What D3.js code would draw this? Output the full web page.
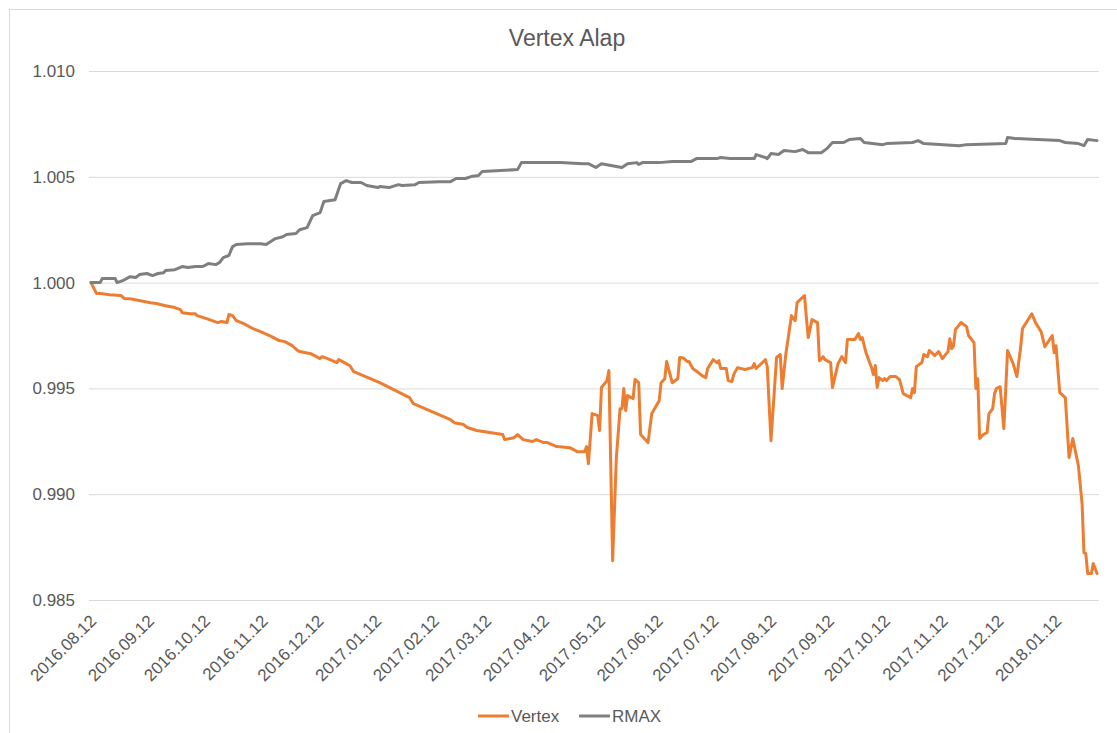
<!DOCTYPE html>
<html>
<head>
<meta charset="utf-8">
<script src="https://cdn.jsdelivr.net/npm/d3@7"></script>
<style>
  html, body { margin: 0; padding: 0; background: #fff; }
  svg { display: block; font-family: "Liberation Sans", Arial, Helvetica, sans-serif; }
</style>
</head>
<body>
<svg id="chart" width="1117" height="733"></svg>
<script>
const chartTitle = "Vertex Alap";
const seriesNames = ["Vertex", "RMAX"];
const seriesColors = ["#ED7D31", "#7F7F7F"];
const yTicks = [0.985, 0.990, 0.995, 1.000, 1.005, 1.010];
const xTickLabels = ["2016.08.12","2016.09.12","2016.10.12","2016.11.12","2016.12.12","2017.01.12","2017.02.12","2017.03.12","2017.04.12","2017.05.12","2017.06.12","2017.07.12","2017.08.12","2017.09.12","2017.10.12","2017.11.12","2017.12.12","2018.01.12"];

const vertex = [
["2016-08-12",1.00000],["2016-08-15",0.99948],["2016-08-17",0.99948],["2016-08-22",0.99943],["2016-08-28",0.99939],
["2016-08-30",0.99924],["2016-09-02",0.99924],["2016-09-13",0.99905],["2016-09-16",0.99901],["2016-09-21",0.99891],
["2016-09-26",0.99882],["2016-09-29",0.99872],["2016-09-30",0.99858],["2016-10-04",0.99853],["2016-10-07",0.99853],
["2016-10-08",0.99844],["2016-10-13",0.99830],["2016-10-19",0.99811],["2016-10-21",0.99816],["2016-10-24",0.99811],
["2016-10-25",0.99849],["2016-10-27",0.99844],["2016-10-29",0.99820],["2016-11-02",0.99806],["2016-11-07",0.99782],
["2016-11-11",0.99768],["2016-11-17",0.99745],["2016-11-21",0.99726],["2016-11-24",0.99721],["2016-11-28",0.99702],
["2016-12-01",0.99679],["2016-12-02",0.99674],["2016-12-08",0.99664],["2016-12-10",0.99655],["2016-12-13",0.99641],
["2016-12-14",0.99650],["2016-12-17",0.99641],["2016-12-22",0.99622],["2016-12-23",0.99636],["2016-12-26",0.99622],
["2016-12-29",0.99607],["2016-12-31",0.99579],["2017-01-14",0.99527],["2017-01-30",0.99456],["2017-02-01",0.99428],
["2017-02-21",0.99352],["2017-02-23",0.99338],["2017-02-28",0.99329],["2017-03-02",0.99315],["2017-03-07",0.99301],
["2017-03-21",0.99282],["2017-03-22",0.99258],["2017-03-27",0.99267],["2017-03-29",0.99282],["2017-04-01",0.99258],
["2017-04-06",0.99249],["2017-04-08",0.99258],["2017-04-12",0.99244],["2017-04-14",0.99244],["2017-04-19",0.99225],
["2017-04-26",0.99220],["2017-04-30",0.99201],["2017-05-04",0.99201],["2017-05-05",0.99225],["2017-05-06",0.99144],
["2017-05-08",0.99381],["2017-05-11",0.99371],["2017-05-12",0.99301],["2017-05-13",0.99504],["2017-05-16",0.99537],
["2017-05-17",0.99584],["2017-05-19",0.98686],["2017-05-21",0.99173],["2017-05-23",0.99404],["2017-05-24",0.99404],
["2017-05-25",0.99499],["2017-05-26",0.99395],["2017-05-27",0.99466],["2017-05-30",0.99452],["2017-05-31",0.99542],
["2017-06-02",0.99527],["2017-06-03",0.99282],["2017-06-07",0.99244],["2017-06-09",0.99381],["2017-06-13",0.99442],
["2017-06-14",0.99527],["2017-06-16",0.99546],["2017-06-17",0.99627],["2017-06-20",0.99527],["2017-06-23",0.99546],
["2017-06-24",0.99646],["2017-06-26",0.99644],["2017-06-28",0.99627],["2017-06-29",0.99627],["2017-07-01",0.99594],
["2017-07-04",0.99575],["2017-07-06",0.99560],["2017-07-08",0.99551],["2017-07-09",0.99594],["2017-07-12",0.99636],
["2017-07-14",0.99622],["2017-07-15",0.99631],["2017-07-16",0.99594],["2017-07-19",0.99594],["2017-07-20",0.99537],
["2017-07-22",0.99532],["2017-07-23",0.99565],["2017-07-25",0.99598],["2017-07-29",0.99589],["2017-08-02",0.99598],
["2017-08-03",0.99617],["2017-08-04",0.99594],["2017-08-09",0.99636],["2017-08-10",0.99603],["2017-08-12",0.99253],
["2017-08-15",0.99646],["2017-08-17",0.99660],["2017-08-18",0.99499],["2017-08-20",0.99664],["2017-08-23",0.99844],
["2017-08-24",0.99830],["2017-08-25",0.99820],["2017-08-26",0.99905],["2017-08-30",0.99939],["2017-08-31",0.99834],
["2017-09-01",0.99740],["2017-09-03",0.99825],["2017-09-06",0.99811],["2017-09-07",0.99631],["2017-09-09",0.99650],
["2017-09-10",0.99636],["2017-09-13",0.99622],["2017-09-14",0.99504],["2017-09-17",0.99617],["2017-09-19",0.99650],
["2017-09-21",0.99622],["2017-09-22",0.99731],["2017-09-26",0.99731],["2017-09-28",0.99759],["2017-09-29",0.99731],
["2017-09-30",0.99740],["2017-10-02",0.99669],["2017-10-05",0.99598],["2017-10-06",0.99565],["2017-10-07",0.99608],
["2017-10-08",0.99504],["2017-10-09",0.99551],["2017-10-11",0.99537],["2017-10-12",0.99546],["2017-10-13",0.99537],
["2017-10-15",0.99556],["2017-10-18",0.99556],["2017-10-20",0.99541],["2017-10-22",0.99475],["2017-10-26",0.99456],
["2017-10-27",0.99499],["2017-10-28",0.99480],["2017-10-29",0.99603],["2017-11-01",0.99622],["2017-11-02",0.99660],
["2017-11-04",0.99650],["2017-11-05",0.99679],["2017-11-08",0.99655],["2017-11-10",0.99674],["2017-11-12",0.99641],
["2017-11-15",0.99674],["2017-11-16",0.99735],["2017-11-17",0.99688],["2017-11-18",0.99702],["2017-11-19",0.99778],
["2017-11-22",0.99811],["2017-11-25",0.99792],["2017-11-26",0.99750],["2017-11-29",0.99716],["2017-11-30",0.99499],
["2017-12-01",0.99546],["2017-12-02",0.99263],["2017-12-04",0.99282],["2017-12-06",0.99291],["2017-12-07",0.99381],
["2017-12-09",0.99404],["2017-12-10",0.99475],["2017-12-11",0.99499],["2017-12-13",0.99508],["2017-12-15",0.99310],
["2017-12-17",0.99679],["2017-12-20",0.99617],["2017-12-22",0.99556],["2017-12-24",0.99693],["2017-12-25",0.99783],
["2017-12-30",0.99853],["2018-01-01",0.99811],["2018-01-04",0.99768],["2018-01-06",0.99697],["2018-01-10",0.99750],
["2018-01-11",0.99669],["2018-01-12",0.99702],["2018-01-14",0.99480],["2018-01-17",0.99456],["2018-01-19",0.99173],
["2018-01-21",0.99263],["2018-01-24",0.99135],["2018-01-26",0.98955],["2018-01-27",0.98724],["2018-01-28",0.98719],
["2018-01-29",0.98625],["2018-01-31",0.98625],["2018-02-01",0.98672],["2018-02-03",0.98625]
];

const rmax = [
["2016-08-12",1.00000],["2016-08-17",1.00001],["2016-08-18",1.00019],["2016-08-25",1.00019],["2016-08-26",1.00000],
["2016-08-29",1.00009],["2016-09-02",1.00028],["2016-09-05",1.00024],["2016-09-07",1.00038],["2016-09-11",1.00043],
["2016-09-14",1.00033],["2016-09-17",1.00043],["2016-09-20",1.00047],["2016-09-21",1.00057],["2016-09-26",1.00061],
["2016-09-30",1.00076],["2016-10-03",1.00071],["2016-10-07",1.00076],["2016-10-11",1.00076],["2016-10-14",1.00090],
["2016-10-18",1.00085],["2016-10-20",1.00095],["2016-10-22",1.00118],["2016-10-25",1.00128],["2016-10-27",1.00170],
["2016-10-29",1.00180],["2016-11-04",1.00184],["2016-11-11",1.00184],["2016-11-14",1.00180],["2016-11-19",1.00208],
["2016-11-23",1.00217],["2016-11-25",1.00227],["2016-11-30",1.00232],["2016-12-02",1.00250],["2016-12-06",1.00260],
["2016-12-08",1.00298],["2016-12-09",1.00317],["2016-12-13",1.00331],["2016-12-15",1.00383],["2016-12-21",1.00392],
["2016-12-24",1.00468],["2016-12-27",1.00482],["2016-12-30",1.00473],["2017-01-04",1.00473],["2017-01-07",1.00459],
["2017-01-13",1.00449],["2017-01-14",1.00454],["2017-01-19",1.00449],["2017-01-24",1.00463],["2017-01-26",1.00459],
["2017-02-02",1.00463],["2017-02-04",1.00473],["2017-02-15",1.00477],["2017-02-21",1.00477],["2017-02-24",1.00492],
["2017-03-01",1.00492],["2017-03-04",1.00501],["2017-03-08",1.00506],["2017-03-10",1.00525],["2017-03-29",1.00534],
["2017-03-31",1.00567],["2017-04-21",1.00567],["2017-05-03",1.00562],["2017-05-06",1.00562],["2017-05-10",1.00544],
["2017-05-13",1.00562],["2017-05-24",1.00544],["2017-05-27",1.00562],["2017-06-01",1.00567],["2017-06-02",1.00558],
["2017-06-04",1.00567],["2017-06-13",1.00567],["2017-06-20",1.00572],["2017-06-30",1.00572],["2017-07-03",1.00586],
["2017-07-14",1.00586],["2017-07-16",1.00591],["2017-07-21",1.00586],["2017-08-03",1.00586],["2017-08-04",1.00605],
["2017-08-09",1.00591],["2017-08-10",1.00586],["2017-08-12",1.00610],["2017-08-16",1.00605],["2017-08-19",1.00624],
["2017-08-25",1.00619],["2017-08-29",1.00629],["2017-09-01",1.00614],["2017-09-08",1.00614],["2017-09-11",1.00633],
["2017-09-14",1.00662],["2017-09-20",1.00662],["2017-09-23",1.00676],["2017-09-29",1.00681],["2017-10-01",1.00662],
["2017-10-11",1.00652],["2017-10-13",1.00657],["2017-10-27",1.00662],["2017-10-30",1.00671],["2017-11-02",1.00657],
["2017-11-21",1.00647],["2017-11-25",1.00652],["2017-12-16",1.00657],["2017-12-17",1.00686],["2017-12-21",1.00681],
["2018-01-14",1.00671],["2018-01-17",1.00662],["2018-01-24",1.00657],["2018-01-27",1.00647],["2018-01-29",1.00676],
["2018-02-03",1.00671]
];

const parse = d3.timeParse("%Y-%m-%d");
const labelParse = d3.timeParse("%Y.%m.%d");
const series = [vertex, rmax].map((arr, i) => ({
  name: seriesNames[i], color: seriesColors[i],
  values: arr.map(d => ({date: parse(d[0]), value: d[1]}))
}));

const svg = d3.select("#chart");
const W = 1117, H = 733;
const plot = {left: 91, right: 1097, top: 71, bottom: 600};

// chart border
svg.append("rect").attr("x", 9.5).attr("y", 9.5).attr("width", W).attr("height", H)
  .attr("fill", "none").attr("stroke", "#d9d9d9");

const x = d3.scaleTime()
  .domain([parse("2016-08-12"), parse("2018-02-03")])
  .range([plot.left, plot.right]);
const y = d3.scaleLinear()
  .domain([yTicks[0], yTicks[yTicks.length - 1]])
  .range([plot.bottom, plot.top]);

// gridlines + y labels
const yAxis = d3.axisLeft(y).tickValues(yTicks).tickFormat(d3.format(".3f"))
  .tickSize(-(plot.right - plot.left + 4)).tickPadding(14);
const gy = svg.append("g").attr("transform", `translate(${plot.left - 2},0)`).call(yAxis);
gy.select(".domain").remove();
gy.selectAll(".tick line").attr("stroke", "#d9d9d9").attr("stroke-width", 1);
gy.selectAll(".tick text").attr("fill", "#595959").attr("font-size", 17)
  .attr("font-family", "Liberation Sans, Arial, sans-serif");

// x labels
const xAxis = d3.axisBottom(x).tickValues(xTickLabels.map(labelParse))
  .tickFormat(d3.timeFormat("%Y.%m.%d")).tickSize(0);
const gx = svg.append("g").attr("transform", `translate(0,${plot.bottom})`).call(xAxis);
gx.select(".domain").remove();
gx.selectAll(".tick text")
  .attr("fill", "#595959").attr("font-size", 17)
  .attr("font-family", "Liberation Sans, Arial, sans-serif")
  .attr("text-anchor", "end")
  .attr("dy", 0).attr("y", 0)
  .attr("transform", "translate(6,22) rotate(-45)");

// lines
const line = d3.line().x(d => x(d.date)).y(d => y(d.value)).curve(d3.curveLinear);
svg.append("g").selectAll("path").data(series).join("path")
  .attr("d", d => line(d.values))
  .attr("fill", "none")
  .attr("stroke", d => d.color)
  .attr("stroke-width", 3)
  .attr("stroke-linejoin", "round")
  .attr("stroke-linecap", "round");

// title
svg.append("text").attr("x", 567).attr("y", 46).attr("text-anchor", "middle")
  .attr("font-size", 23).attr("fill", "#595959").text(chartTitle);

// legend
const legendPos = [{lx: 478, tx: 511}, {lx: 579, tx: 612}];
const lg = svg.append("g").selectAll("g").data(series).join("g");
lg.append("line")
  .attr("x1", (d, i) => legendPos[i].lx).attr("x2", (d, i) => legendPos[i].lx + 31)
  .attr("y1", 716).attr("y2", 716)
  .attr("stroke", d => d.color).attr("stroke-width", 3);
lg.append("text")
  .attr("x", (d, i) => legendPos[i].tx).attr("y", 722)
  .attr("font-size", 17).attr("fill", "#595959")
  .text(d => d.name);
</script>
</body>
</html>
